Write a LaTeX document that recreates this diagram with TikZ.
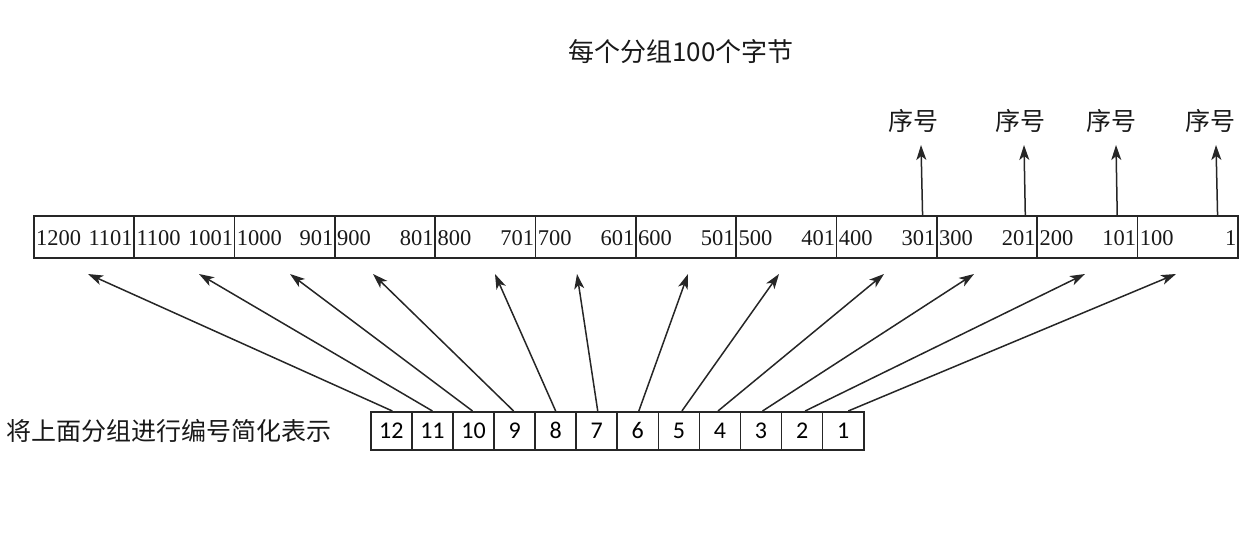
\documentclass[tikz,border=0pt]{standalone}
\usepackage{fontspec}
\setmainfont{Liberation Serif}
\newfontfamily\cjk{Noto Sans CJK SC}
\newfontfamily\numsans{Carlito}
\usetikzlibrary{arrows.meta}
\begin{document}
\begin{tikzpicture}[x=1pt,y=-1pt,
  cellbox/.style={draw=black!85, line width=1.6pt, minimum width=100.33pt, minimum height=42pt, inner sep=0pt, anchor=north west},
  topnum/.style={inner sep=0pt, text=black!90, font=\fontsize{22.5}{25}\selectfont},
  bcell/.style={draw=black!85, line width=1.6pt, minimum width=41.08pt, minimum height=38pt, inner sep=0pt, anchor=north west, font=\numsans\fontsize{24}{28}\selectfont},
  cjklabel/.style={inner sep=0pt, text=black!90, font=\cjk\fontsize{25}{30}\selectfont},
  arr/.style={line width=1.5pt, draw=black!85, -{Stealth[length=15pt,width=10pt,inset=4pt]}}
]
\useasboundingbox (0,0) rectangle (1239,537);

% title
\node[cjklabel, font=\cjk\fontsize{26}{30}\selectfont] (title) at (681,52) {每个分组100个字节};

% top row of groups
\foreach \i in {0,...,11}{
  \pgfmathtruncatemacro\n{12-\i}
  \pgfmathtruncatemacro\hi{100*\n}
  \pgfmathtruncatemacro\lo{100*(\n-1)+1}
  \node[cellbox] (t\n) at ({33+100.33*\i},215) {};
  \node[topnum, anchor=west] (tl\n) at ([xshift=3pt,yshift=-1pt]t\n.west) {\hi};
  \node[topnum, anchor=east] (tr\n) at ([xshift=-2pt,yshift=-1pt]t\n.east) {\lo};
}

% sequence number labels
\foreach \k/\lx/\ax/\dx in {4/913/921/-15, 3/1020/1024/-12.6, 2/1111/1116/-21, 1/1210/1216/-21}{
  \node[cjklabel] (s\k) at (\lx,120.5) {序号};
  \coordinate (up\k) at (\ax,145);
  \draw[arr] ([xshift=\dx pt]t\k.north east) -- (up\k);
}

% bottom row
\node[cjklabel] (note) at (168.5,430.5) {将上面分组进行编号简化表示};
\foreach \i in {0,...,11}{
  \pgfmathtruncatemacro\n{12-\i}
  \node[bcell] (b\n) at ({370+41.08*\i},411) {\n};
}

% arrows from numbers to groups
\foreach \n/\tx/\dx in {12/88/1, 11/199/0, 10/290/-1, 9/373/-1, 8/495/0, 7/577/1, 6/688/1, 5/779/3, 4/884/-2, 3/974/1.5, 2/1085/3, 1/1176/5}{
  \coordinate (tip\n) at (\tx,274);
  \draw[arr] ([xshift=\dx pt]b\n.north) -- (tip\n);
}
\end{tikzpicture}
\end{document}
